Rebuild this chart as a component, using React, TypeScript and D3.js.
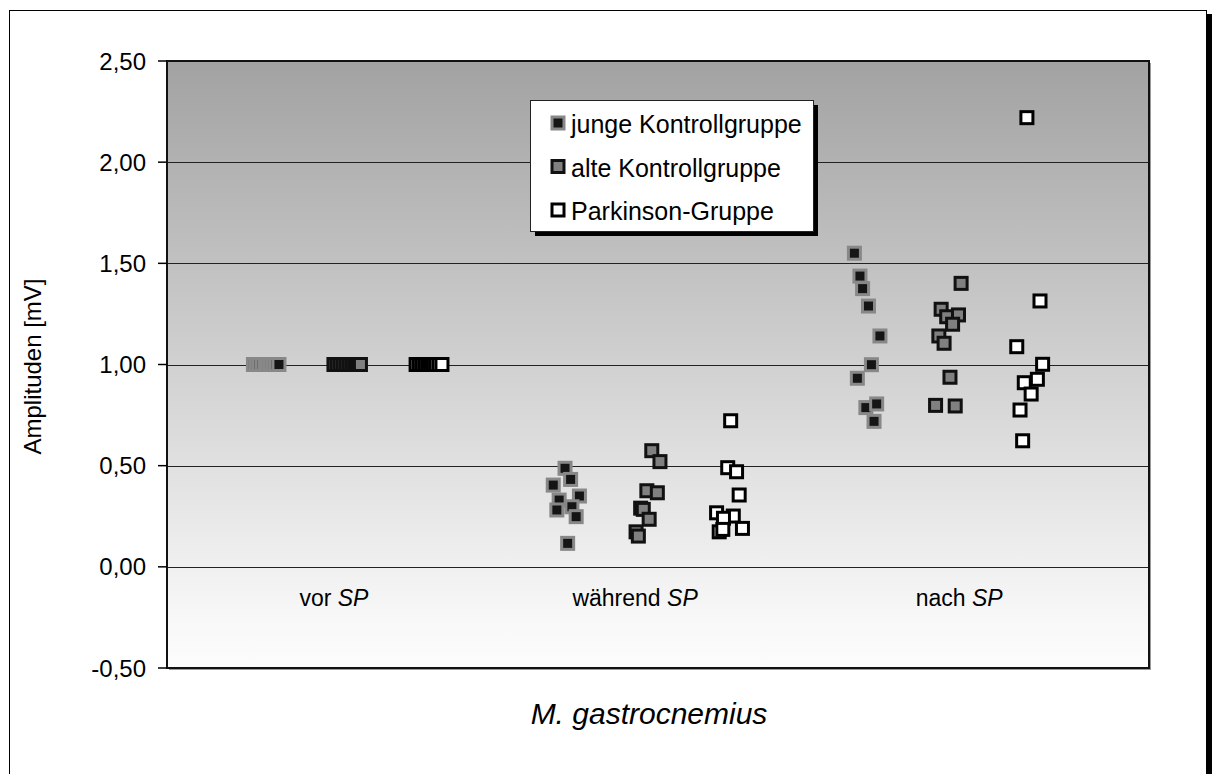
import React from 'react';
import * as d3 from 'd3';

// x = category position (0..3 across the plot), y = amplitude in mV
const categories = ['vor', 'während', 'nach'];
const categoryCenters = [0.51, 1.43, 2.42];
const yTicks = [-0.5, 0, 0.5, 1.0, 1.5, 2.0, 2.5];

const jungeX = [0.264, 0.273, 0.281, 0.29, 0.299, 0.307, 0.316, 0.325, 0.333, 0.342,
  1.216, 1.18, 1.233, 1.26, 1.198, 1.191, 1.237, 1.25, 1.224,
  2.1, 2.117, 2.125, 2.143, 2.178, 2.152, 2.109, 2.135, 2.168, 2.16];
const jungeY = [1, 1, 1, 1, 1, 1, 1, 1, 1, 1,
  0.487, 0.404, 0.432, 0.35, 0.33, 0.281, 0.297, 0.248, 0.116,
  1.55, 1.437, 1.375, 1.289, 1.141, 0.999, 0.932, 0.787, 0.805, 0.719];

const alteX = [0.51, 0.519, 0.528, 0.537, 0.546, 0.555, 0.564, 0.573, 0.582, 0.591,
  1.481, 1.506, 1.466, 1.498, 1.447, 1.455, 1.473, 1.433, 1.44,
  2.426, 2.365, 2.382, 2.418, 2.4, 2.358, 2.374, 2.392, 2.348, 2.408];
const alteY = [1, 1, 1, 1, 1, 1, 1, 1, 1, 1,
  0.574, 0.52, 0.376, 0.366, 0.29, 0.284, 0.235, 0.173, 0.152,
  1.401, 1.273, 1.236, 1.245, 1.199, 1.141, 1.105, 0.937, 0.798, 0.795];

const parkinsonX = [0.761, 0.77, 0.778, 0.787, 0.796, 0.805, 0.814, 0.822, 0.831, 0.84,
  1.722, 1.713, 1.74, 1.748, 1.679, 1.73, 1.7, 1.687, 1.698, 1.758,
  2.627, 2.667, 2.596, 2.675, 2.619, 2.659, 2.64, 2.606, 2.614];
const parkinsonY = [1, 1, 1, 1, 1, 1, 1, 1, 1, 1,
  0.722, 0.49, 0.47, 0.355, 0.267, 0.251, 0.24, 0.173, 0.185, 0.19,
  2.22, 1.314, 1.088, 1.001, 0.91, 0.927, 0.854, 0.775, 0.623];

const series = [
  { name: 'junge Kontrollgruppe', xs: jungeX, ys: jungeY, fill: '#151515', stroke: '#888' },
  { name: 'alte Kontrollgruppe', xs: alteX, ys: alteY, fill: '#808080', stroke: '#111' },
  { name: 'Parkinson-Gruppe', xs: parkinsonX, ys: parkinsonY, fill: '#fff', stroke: '#000' },
];

const W = 1212;
const H = 774;
const plot = { left: 167, right: 1149, top: 61, bottom: 668 };
const font = 'Liberation Sans, Arial, sans-serif';

const fmt = (v: number) => d3.format('.2f')(v).replace('.', ',').replace('−', '-');

const App = () => {
  const x = d3.scaleLinear().domain([0, 3]).range([plot.left, plot.right]);
  const y = d3.scaleLinear().domain([-0.5, 2.5]).range([plot.bottom, plot.top]);
  const pw = plot.right - plot.left;
  const ph = plot.bottom - plot.top;
  const ms = 12;

  const legend = { x: 530, y: 100, w: 283, h: 131 };

  return (
    <svg width={W} height={H} style={{ position: 'absolute', left: 0, top: 0, display: 'block' }}
      fontFamily={font}>
      <defs>
        <linearGradient id="bg" x1="0" y1="0" x2="0" y2="1">
          <stop offset="0" stopColor="#a2a2a2" />
          <stop offset="0.92" stopColor="#f8f8f8" />
          <stop offset="1" stopColor="#fcfcfc" />
        </linearGradient>
      </defs>
      <rect x={0} y={0} width={W} height={H} fill="#fff" />
      {/* outer frame */}
      <rect x={13} y={14} width={1199} height={800} fill="#000" />
      <rect x={9.5} y={10.5} width={1197} height={800} fill="#fff" stroke="#000" strokeWidth={1} />

      {/* plot area */}
      <rect x={plot.left + 2} y={plot.top + 2} width={pw} height={ph} fill="#999" />
      <rect x={plot.left} y={plot.top} width={pw} height={ph} fill="url(#bg)" />
      {yTicks.filter((t) => t > -0.5 && t < 2.5).map((t) => (
        <line key={t} x1={plot.left} x2={plot.right} y1={Math.round(y(t)) + 0.5} y2={Math.round(y(t)) + 0.5}
          stroke="#222" strokeWidth={1} />
      ))}
      <rect x={plot.left} y={plot.top} width={pw} height={ph} fill="none" stroke="#111" strokeWidth={2} />

      {/* y axis */}
      {yTicks.map((t) => (
        <g key={t}>
          <line x1={plot.left - 9} x2={plot.left} y1={y(t)} y2={y(t)} stroke="#000" strokeWidth={1.5} />
          <text x={146} y={y(t)} textAnchor="end" dominantBaseline="central" fontSize={24}>{fmt(t)}</text>
        </g>
      ))}
      <text transform={`translate(32, ${(plot.top + plot.bottom) / 2 + 2}) rotate(-90)`} textAnchor="middle"
        dominantBaseline="central" fontSize={24}>Amplituden [mV]</text>

      {/* category labels */}
      {categories.map((c, i) => (
        <text key={c} x={x(categoryCenters[i])} y={598} textAnchor="middle" dominantBaseline="central" fontSize={23}>
          {c} <tspan fontStyle="italic">SP</tspan>
        </text>
      ))}
      <text x={649} y={713} textAnchor="middle" dominantBaseline="central" fontSize={30} fontStyle="italic">
        M. gastrocnemius
      </text>

      {/* points */}
      {series.map((s) => (
        <g key={s.name}>
          {s.xs.map((xv, i) => (
            <rect key={i} x={x(xv) - ms / 2} y={y(s.ys[i]) - ms / 2} width={ms} height={ms}
              fill={s.fill} stroke={s.stroke} strokeWidth={3} />
          ))}
        </g>
      ))}

      {/* legend */}
      <rect x={legend.x + 5} y={legend.y + 5} width={legend.w} height={legend.h} fill="#000" />
      <rect x={legend.x + 0.5} y={legend.y + 0.5} width={legend.w} height={legend.h} fill="#fff" stroke="#222" strokeWidth={1} />
      {series.map((s, i) => {
        const cy = 123 + i * 43.5;
        return (
          <g key={s.name}>
            <rect x={552} y={cy - 6} width={12} height={12} fill={s.fill} stroke={s.stroke} strokeWidth={3} />
            <text x={571} y={cy + 1} dominantBaseline="central" fontSize={25}>{s.name}</text>
          </g>
        );
      })}
    </svg>
  );
};

export default App;
